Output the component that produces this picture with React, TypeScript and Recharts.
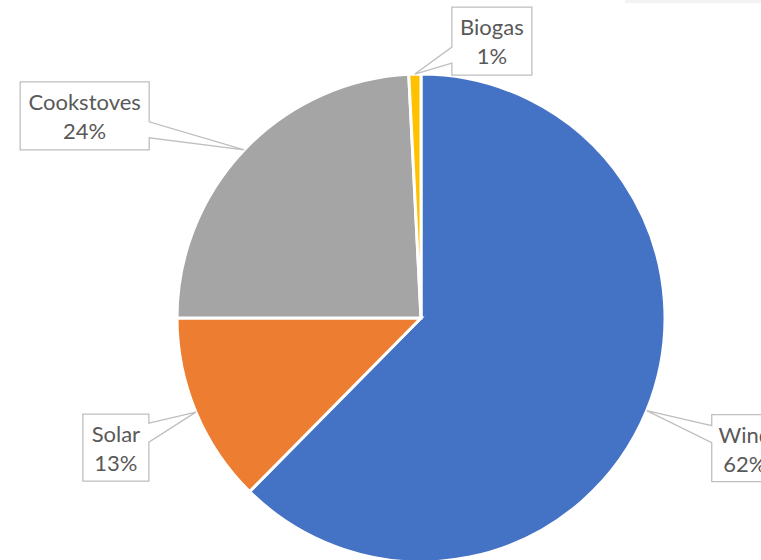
import React from "react";
import { PieChart, Pie, Cell } from "recharts";

const categories = ["Wind", "Solar", "Cookstoves", "Biogas"];
const shares = [62.4, 12.6, 24.2, 0.8];
const colors = ["#4472C4", "#ED7D31", "#A5A5A5", "#FFC000"];

const data = categories.map((name, i) => ({ name, value: shares[i] }));

const RAD = Math.PI / 180;

// callout box placement relative to the anchor point on the slice edge
// side: which edge of the box the pointer leaves from
const callouts: Record<
  string,
  { side: "left" | "right"; dx: number; dy: number; w: number; h: number; p1: number; p2: number }
> = {
  Biogas: { side: "left", dx: 37, dy: -67, w: 80, h: 68, p1: 40, p2: 56 },
  Cookstoves: { side: "right", dx: -95, dy: -68, w: 129, h: 68, p1: 40, p2: 56 },
  Solar: { side: "right", dx: -47, dy: 2, w: 66, h: 67, p1: 9, p2: 28 },
  Wind: { side: "left", dx: 65, dy: 4, w: 66, h: 67, p1: 11, p2: 28 },
};

const renderCallout = (props: any) => {
  const { cx, cy, midAngle, outerRadius, percent, name } = props;
  const c = callouts[name];
  if (!c) return null;
  const ax = cx + outerRadius * Math.cos(-midAngle * RAD);
  const ay = cy + outerRadius * Math.sin(-midAngle * RAD);
  const top = ay + c.dy;
  const left = c.side === "left" ? ax + c.dx : ax + c.dx - c.w;
  const right = left + c.w;
  const bottom = top + c.h;
  let d: string;
  if (c.side === "left") {
    d = `M${left},${top} L${right},${top} L${right},${bottom} L${left},${bottom} L${left},${top + c.p2} L${ax},${ay} L${left},${top + c.p1} Z`;
  } else {
    d = `M${left},${top} L${right},${top} L${right},${top + c.p1} L${ax},${ay} L${right},${top + c.p2} L${right},${bottom} L${left},${bottom} Z`;
  }
  const mid = (left + right) / 2;
  return (
    <g key={`callout-${name}`}>
      <path d={d} fill="#FFFFFF" stroke="#BFBFBF" strokeWidth={1.3} />
      <text x={mid} y={top + 28} textAnchor="middle" fill="#595959" fontSize={22} fontFamily="Lato, sans-serif">
        {name}
      </text>
      <text x={mid} y={top + 57} textAnchor="middle" fill="#595959" fontSize={22} fontFamily="Lato, sans-serif">
        {`${Math.round(percent * 100)}%`}
      </text>
    </g>
  );
};

export default function App() {
  return (
    <div style={{ position: "fixed", left: 0, top: 0, width: 761, height: 560, background: "#FFFFFF", overflow: "hidden" }}>
      <div style={{ position: "absolute", left: 625, top: 0, width: 136, height: 3, background: "#F2F2F2" }} />
      <PieChart width={761} height={560} margin={{ top: 0, right: 0, bottom: 0, left: 0 }}>
        <Pie
          data={data}
          dataKey="value"
          nameKey="name"
          cx={421}
          cy={318}
          outerRadius={244}
          startAngle={90}
          endAngle={-270}
          stroke="#FFFFFF"
          strokeWidth={3}
          label={renderCallout}
          labelLine={false}
          isAnimationActive={false}
        >
          {data.map((entry, i) => (
            <Cell key={entry.name} fill={colors[i]} />
          ))}
        </Pie>
      </PieChart>
    </div>
  );
}
